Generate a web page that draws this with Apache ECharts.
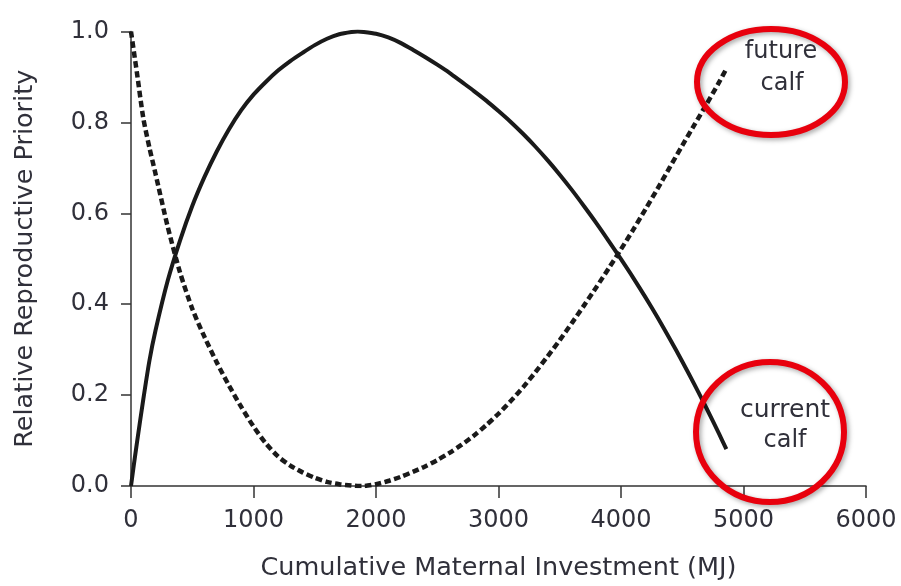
<!DOCTYPE html>
<html>
<head>
<meta charset="utf-8">
<script src="https://cdn.jsdelivr.net/npm/echarts@6/dist/echarts.min.js"></script>
<style>html,body{margin:0;padding:0;background:#fff}#c{width:901px;height:586px}</style>
</head>
<body>
<div id="c"></div>
<script>
// Cumulative maternal investment (MJ)
var investment = [0, 25, 50, 100, 150, 200, 300, 400, 500, 600, 700, 800, 900, 1000, 1100, 1200, 1300, 1400, 1500, 1600, 1700, 1800, 1850, 1900, 2000, 2100, 2200, 2300, 2400, 2500, 2600, 2700, 2800, 2900, 3000, 3100, 3200, 3300, 3400, 3500, 3600, 3700, 3800, 3900, 4000, 4100, 4200, 4300, 4400, 4500, 4600, 4700, 4800, 4860];
// Current calf priority (solid line)
var currentCalf = [0, 0.05, 0.098, 0.19, 0.275, 0.342, 0.452, 0.540, 0.616, 0.680, 0.736, 0.785, 0.827, 0.861, 0.889, 0.914, 0.935, 0.953, 0.970, 0.984, 0.994, 0.999, 1.0, 0.999, 0.995, 0.987, 0.975, 0.960, 0.944, 0.927, 0.909, 0.889, 0.869, 0.848, 0.825, 0.801, 0.775, 0.747, 0.717, 0.685, 0.651, 0.615, 0.578, 0.539, 0.499, 0.458, 0.415, 0.370, 0.323, 0.274, 0.223, 0.170, 0.115, 0.081];
// Future calf priority (dashed line)
var futureCalf = [1.0, 0.953, 0.906, 0.81, 0.745, 0.687, 0.570, 0.470, 0.390, 0.328, 0.272, 0.221, 0.174, 0.131, 0.094, 0.065, 0.045, 0.030, 0.018, 0.009, 0.004, 0.001, 0.0, 0.0, 0.004, 0.011, 0.020, 0.031, 0.043, 0.057, 0.073, 0.091, 0.111, 0.134, 0.159, 0.187, 0.217, 0.250, 0.285, 0.321, 0.359, 0.398, 0.438, 0.479, 0.521, 0.564, 0.609, 0.655, 0.702, 0.749, 0.795, 0.841, 0.888, 0.918];
var xTicks = [0, 1000, 2000, 3000, 4000, 5000, 6000];
var yTicks = [0.0, 0.2, 0.4, 0.6, 0.8, 1.0];

function pairs(xs, ys) { return xs.map(function (x, i) { return [x, ys[i]]; }); }

var txt = '#30303a';
var font = '"DejaVu Sans", Arial, sans-serif';
var fs = 24;
var chart = echarts.init(document.getElementById('c'), null, { renderer: 'canvas' });
chart.setOption({
  animation: false,
  backgroundColor: '#fff',
  grid: { left: 131, right: 35, top: 31.5, bottom: 100, outerBoundsMode: 'none' },
  xAxis: {
    type: 'value', min: 0, max: 6000, interval: 1000,
    name: 'Cumulative Maternal Investment (MJ)', nameLocation: 'middle', nameGap: 69,
    nameTextStyle: { fontSize: 25.5, color: txt, fontFamily: font },
    axisLine: { show: true, lineStyle: { color: '#333', width: 1.5 } },
    axisTick: { show: true, length: 12, lineStyle: { color: '#333', width: 1.5 } },
    axisLabel: { fontSize: fs, color: txt, fontFamily: font, margin: 23,
      formatter: function (v) { return xTicks.indexOf(v) >= 0 ? String(v) : ''; } },
    splitLine: { show: false }
  },
  yAxis: {
    type: 'value', min: 0, max: 1, interval: 0.2,
    name: 'Relative Reproductive Priority', nameLocation: 'middle', nameGap: 93,
    nameTextStyle: { fontSize: 25.5, color: txt, fontFamily: font },
    axisLine: { show: true, lineStyle: { color: '#333', width: 1.5 } },
    axisTick: { show: true, length: 10, lineStyle: { color: '#333', width: 1.5 } },
    axisLabel: { fontSize: fs, color: txt, fontFamily: font, margin: 22,
      formatter: function (v) {
        var s = v.toFixed(1);
        return yTicks.some(function (t) { return t.toFixed(1) === s; }) ? s : '';
      } },
    splitLine: { show: false }
  },
  series: [
    { name: 'current calf', type: 'line', data: pairs(investment, currentCalf), smooth: 0.25,
      showSymbol: false, symbol: 'none',
      lineStyle: { color: '#1a1a1a', width: 4, cap: 'butt', join: 'round' } },
    { name: 'future calf', type: 'line', data: pairs(investment, futureCalf), smooth: 0.25,
      showSymbol: false, symbol: 'none',
      lineStyle: { color: '#1a1a1a', width: 4.5, type: [6.5, 3.5], cap: 'butt', join: 'round' } }
  ],
  graphic: [
    { type: 'ellipse', shape: { cx: 771, cy: 82, rx: 74, ry: 53 },
      style: { fill: 'none', stroke: '#e8000d', lineWidth: 6, shadowBlur: 5, shadowColor: 'rgba(0,0,0,0.35)', shadowOffsetX: 2, shadowOffsetY: 2 }, z: 100 },
    { type: 'ellipse', shape: { cx: 770, cy: 432, rx: 74, ry: 70 },
      style: { fill: 'none', stroke: '#e8000d', lineWidth: 6, shadowBlur: 5, shadowColor: 'rgba(0,0,0,0.35)', shadowOffsetX: 2, shadowOffsetY: 2 }, z: 100 },
    { type: 'text', z: 101, x: 781, y: 52,
      style: { text: 'future', fill: txt, font: fs + 'px ' + font, textAlign: 'center', textVerticalAlign: 'middle' } },
    { type: 'text', z: 101, x: 782, y: 84,
      style: { text: 'calf', fill: txt, font: fs + 'px ' + font, textAlign: 'center', textVerticalAlign: 'middle' } },
    { type: 'text', z: 101, x: 785, y: 410,
      style: { text: 'current', fill: txt, font: '25px ' + font, textAlign: 'center', textVerticalAlign: 'middle' } },
    { type: 'text', z: 101, x: 785, y: 441,
      style: { text: 'calf', fill: txt, font: fs + 'px ' + font, textAlign: 'center', textVerticalAlign: 'middle' } }
  ]
});
</script>
</body>
</html>
